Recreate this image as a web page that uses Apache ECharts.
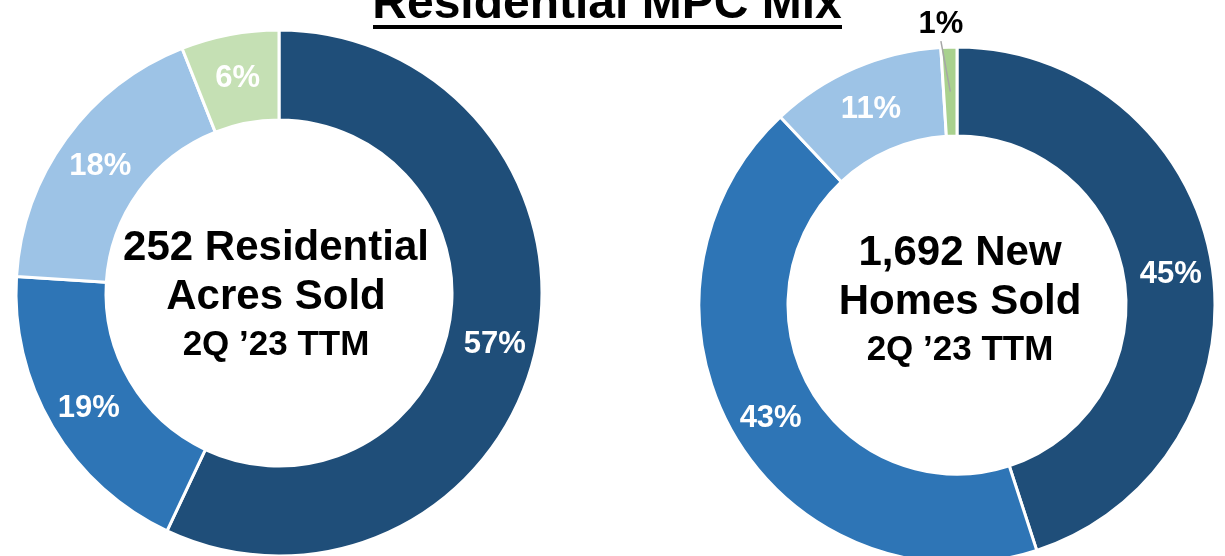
<!DOCTYPE html>
<html>
<head>
<meta charset="utf-8">
<script src="https://cdn.jsdelivr.net/npm/echarts@6/dist/echarts.min.js"></script>
<style>
  html, body { margin: 0; padding: 0; background: #ffffff; }
  #chart { width: 1225px; height: 556px; }
</style>
</head>
<body>
<div id="chart"></div>
<script>
// ---- data ----
const segmentNames = ['Segment 1', 'Segment 2', 'Segment 3', 'Segment 4'];
const acresValues = [57, 19, 18, 6];
const homesValues = [45, 43, 11, 1];
const mainTitle = 'Residential MPC Mix';
const acresCenterLines = ['252 Residential', 'Acres Sold', '2Q \u201923 TTM'];
const homesCenterLines = ['1,692 New', 'Homes Sold', '2Q \u201923 TTM'];

// ---- styles / layout ----
const FONT = 'Arial, "Liberation Sans", sans-serif';
const acresColors = ['#1F4E79', '#2E75B6', '#9DC3E6', '#C5E0B4'];
const homesColors = ['#1F4E79', '#2E75B6', '#9DC3E6', '#A9D18E'];
const acresCenter = [279, 293];
const acresRadius = [173, 263];
const homesCenter = [957, 305];
const homesRadius = [169, 258];
const OUTSIDE_INDEX = 3;

function buildData(values, colors) {
  return values.map((v, i) => ({ name: segmentNames[i], value: v, itemStyle: { color: colors[i] } }));
}

const centerRich = {
  a: { fontFamily: FONT, fontWeight: 'bold', fontSize: 42, lineHeight: 49, color: '#000' },
  b: { fontFamily: FONT, fontWeight: 'bold', fontSize: 35, lineHeight: 46, color: '#000' }
};
function centerText(lines) {
  return '{a|' + lines[0] + '}\n{a|' + lines[1] + '}\n{b|' + lines[2] + '}';
}

const insideLabel = {
  show: true,
  position: 'inside',
  formatter: '{c}%',
  color: '#ffffff',
  fontFamily: FONT,
  fontWeight: 'bold',
  fontSize: 31,
  offset: [0, 3]
};

const homesData = buildData(homesValues, homesColors);
homesData[OUTSIDE_INDEX].label = {
  show: true,
  position: 'outside',
  formatter: '{c}%',
  color: '#000000',
  fontFamily: FONT,
  fontWeight: 'bold',
  fontSize: 31
};
homesData[OUTSIDE_INDEX].labelLine = { show: false, length: 4, length2: 0 };

// leader line for the small slice, derived from the data and the pie geometry
const homesTotal = homesValues.reduce((s, v) => s + v, 0);
const before = homesValues.slice(0, OUTSIDE_INDEX).reduce((s, v) => s + v, 0);
const midTheta = (before + homesValues[OUTSIDE_INDEX] / 2) / homesTotal * 2 * Math.PI;
const sinT = Math.sin(midTheta), cosT = Math.cos(midTheta);
const rMid = (homesRadius[0] + homesRadius[1]) / 2;
const outerPt = [homesCenter[0] + homesRadius[1] * sinT, homesCenter[1] - homesRadius[1] * cosT];
const lineStart = [homesCenter[0] + rMid * sinT, homesCenter[1] - rMid * cosT];
const LABEL_DX = -8, LABEL_DY = -6;
const lineEnd = [outerPt[0] + LABEL_DX, outerPt[1] + LABEL_DY];

const chart = echarts.init(document.getElementById('chart'), null, { renderer: 'canvas' });
chart.setOption({
  backgroundColor: '#ffffff',
  animation: false,
  title: [
    { text: centerText(acresCenterLines), left: 271, top: 219, textAlign: 'center',
      textStyle: { rich: centerRich } },
    { text: centerText(homesCenterLines), left: 955, top: 224, textAlign: 'center',
      textStyle: { rich: centerRich } }
  ],
  graphic: [
    { type: 'text', x: 607, y: 5, silent: true,
      style: { text: mainTitle, font: 'bold 48px ' + FONT, fill: '#000', align: 'center', verticalAlign: 'middle' } },
    { type: 'rect', silent: true, shape: { x: 373, y: 25, width: 469, height: 4 }, style: { fill: '#000' } },
    { type: 'polyline', silent: true, z: 100,
      shape: { points: [lineStart, lineEnd] },
      style: { stroke: '#a6a6a6', lineWidth: 1.5, fill: null } }
  ],
  series: [
    {
      type: 'pie',
      center: acresCenter,
      radius: acresRadius,
      startAngle: 90,
      clockwise: true,
      avoidLabelOverlap: false,
      silent: true,
      itemStyle: { borderColor: '#ffffff', borderWidth: 3 },
      label: insideLabel,
      labelLine: { show: false },
      data: buildData(acresValues, acresColors)
    },
    {
      type: 'pie',
      center: homesCenter,
      radius: homesRadius,
      startAngle: 90,
      clockwise: true,
      avoidLabelOverlap: false,
      silent: true,
      itemStyle: { borderColor: '#ffffff', borderWidth: 3 },
      label: insideLabel,
      labelLine: { show: false },
      labelLayout: function (p) {
        if (p.dataIndex === OUTSIDE_INDEX) {
          return {
            x: lineEnd[0],
            y: lineEnd[1] - p.labelRect.height / 2 - 1.5,
            align: 'center',
            verticalAlign: 'middle'
          };
        }
      },
      data: homesData
    }
  ]
});
</script>
</body>
</html>
